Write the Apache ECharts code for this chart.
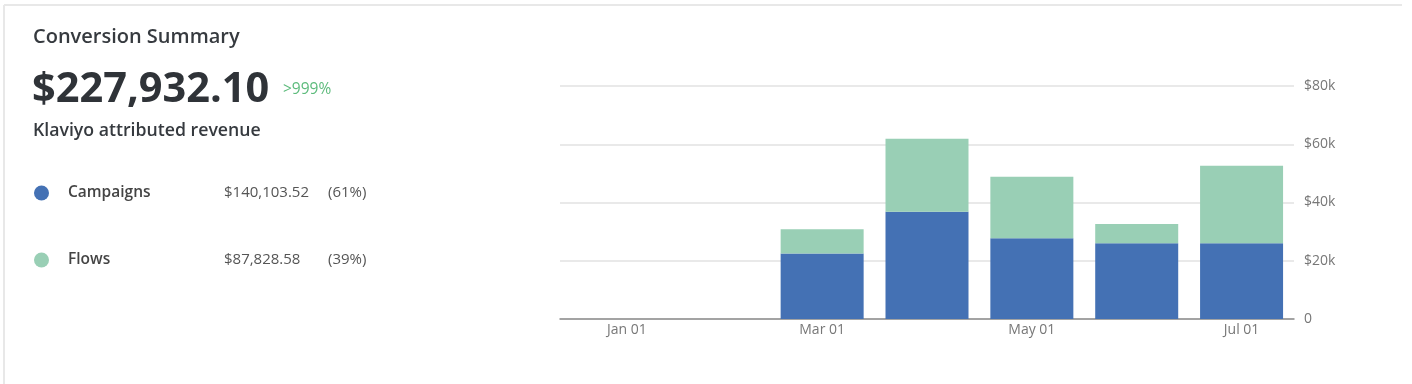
<!DOCTYPE html>
<html>
<head>
<meta charset="utf-8">
<script src="https://cdn.jsdelivr.net/npm/echarts@6/dist/echarts.min.js"></script>
<style>
html,body{margin:0;padding:0;background:#fff;}
#c{width:1412px;height:384px;}
</style>
</head>
<body>
<div id="c"></div>
<script>
const categories = ['Jan 01','Feb 01','Mar 01','Apr 01','May 01','Jun 01','Jul 01'];
const campaigns = [null, null, 22500, 36800, 27700, 26000, 26000];
const flows = [null, null, 8300, 25100, 21100, 6600, 26600];
const yTicks = [0, 20000, 40000, 60000, 80000];
const totalRevenue = '$227,932.10';
const change = '>999%';
const legendRows = [
  {name:'Campaigns', value:'$140,103.52', pct:'(61%)'},
  {name:'Flows', value:'$87,828.58', pct:'(39%)'}
];
const colors = ['#4471b4', '#99cfb5'];
const FONT = '"Open Sans", sans-serif';

const chart = echarts.init(document.getElementById('c'), null, {renderer:'canvas'});

const graphics = [
  {type:'line', shape:{x1:4, y1:5, x2:1402, y2:5}, style:{stroke:'#e8e8e8', lineWidth:2}, silent:true},
  {type:'line', shape:{x1:4, y1:5, x2:4, y2:384}, style:{stroke:'#e8e8e8', lineWidth:2}, silent:true},
  {type:'text', x:33, y:37, style:{text:'Conversion Summary', font:'600 20px ' + FONT, fill:'#363a3f', textVerticalAlign:'middle'}},
  {type:'text', x:32, y:90, style:{text:totalRevenue, font:'bold 41.5px ' + FONT, fill:'#2f3338', textVerticalAlign:'middle'}},
  {type:'text', x:283, y:90, style:{text:change, font:'15.5px ' + FONT, fill:'#5dbb7c', textVerticalAlign:'middle'}},
  {type:'text', x:33, y:131, style:{text:'Klaviyo attributed revenue', font:'600 17.7px ' + FONT, fill:'#363a3f', textVerticalAlign:'middle'}}
];
legendRows.forEach((r, i) => {
  const y = 193 + i * 67;
  graphics.push({type:'circle', shape:{cx:41.5, cy:y, r:7.5}, style:{fill:colors[i]}});
  graphics.push({type:'text', x:68, y:y, style:{text:r.name, font:'600 15.5px ' + FONT, fill:'#444', textVerticalAlign:'middle'}});
  graphics.push({type:'text', x:224, y:y, style:{text:r.value, font:'15px ' + FONT, fill:'#555', textVerticalAlign:'middle'}});
  graphics.push({type:'text', x:328, y:y, style:{text:r.pct, font:'15px ' + FONT, fill:'#555', textVerticalAlign:'middle'}});
});

chart.setOption({
  animation:false,
  textStyle:{fontFamily:FONT},
  grid:{left:560, right:118, top:86, bottom:65, containLabel:false},
  xAxis:{
    type:'category',
    data:categories,
    axisTick:{show:false},
    axisLine:{lineStyle:{color:'#8c8c8c', width:1.5}},
    axisLabel:{
      interval:1, color:'#777', fontSize:14, margin:4,
      formatter:(v, idx) => idx === 0 ? '{f|' + v + '}' : v,
      rich:{f:{padding:[0,0,0,29], color:'#777', fontSize:14}}
    }
  },
  yAxis:{
    type:'value', position:'right', min:yTicks[0], max:yTicks[yTicks.length-1], interval:20000,
    axisLine:{show:false}, axisTick:{show:false},
    splitLine:{lineStyle:{color:'#e2e2e2', width:1.5}},
    axisLabel:{color:'#777', fontSize:14, margin:10,
      formatter:v => v === 0 ? '0' : '$' + (v/1000) + 'k'}
  },
  series:[
    {name:'Campaigns', type:'bar', stack:'t', data:campaigns, barWidth:83, itemStyle:{color:colors[0]}},
    {name:'Flows', type:'bar', stack:'t', data:flows, barWidth:83, itemStyle:{color:colors[1]}}
  ],
  graphic:graphics
});
</script>
</body>
</html>
